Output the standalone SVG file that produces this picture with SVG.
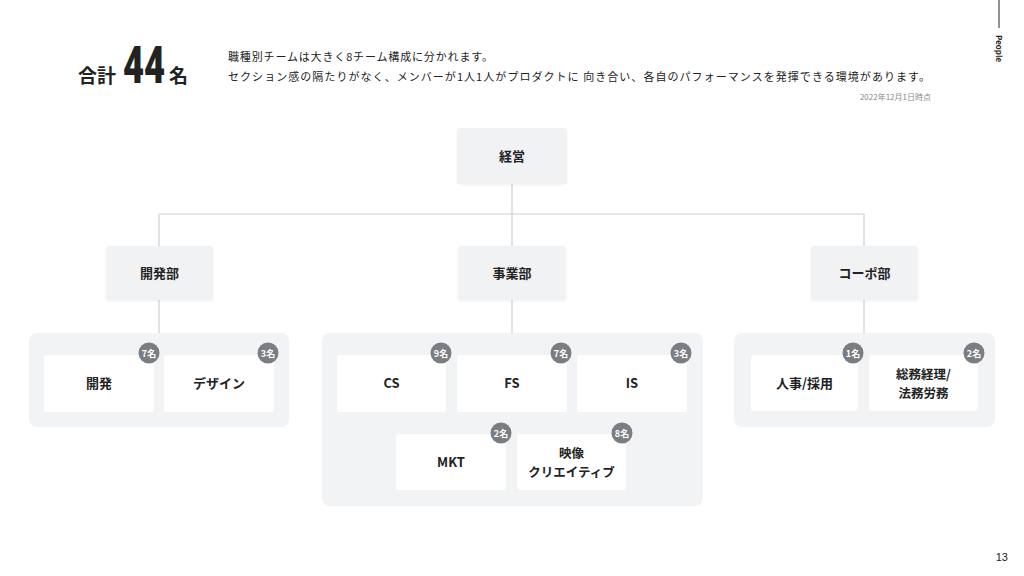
<svg xmlns="http://www.w3.org/2000/svg" width="1024" height="576" viewBox="0 0 1024 576">
<style>
.t{font-family:"Noto Sans CJK JP",sans-serif;fill:#222}
.n{font-family:"Noto Sans CJK JP",sans-serif;font-size:13px;font-weight:700;fill:#222;text-anchor:middle}
.n2{font-family:"Noto Sans CJK JP",sans-serif;font-size:12.5px;font-weight:700;fill:#222;text-anchor:middle}
.top{fill:#f1f2f4}
.grp{fill:#f2f3f5}
.box{fill:#ffffff}
.bd{fill:#7a7e83}
.bt{font-family:"Noto Sans CJK JP",sans-serif;font-size:9px;font-weight:700;fill:#fff;text-anchor:middle}
.ln{stroke:#cfcfcf;stroke-width:1.2;fill:none}
</style>
<defs>
<filter id="sh" x="-10%" y="-10%" width="120%" height="130%"><feDropShadow dx="0" dy="1" stdDeviation="1" flood-color="#000" flood-opacity="0.06"/></filter>
</defs>
<rect width="1024" height="576" fill="#fff"/>
<line x1="999" y1="0" x2="999" y2="28" stroke="#222" stroke-width="1"/>
<text class="t" x="0" y="0" font-size="8" font-weight="700" transform="translate(996,35) rotate(90)">People</text>
<text class="t" x="78" y="83" font-size="19" font-weight="700">合計</text>
<text class="t" x="0" y="0" font-size="52" font-weight="900" transform="translate(123,83) scale(0.7,1)" style="font-family:Roboto,sans-serif">44</text>
<text class="t" x="169" y="83" font-size="19" font-weight="700">名</text>
<text class="t" x="228" y="61" font-size="11" textLength="265" lengthAdjust="spacing">職種別チームは大きく8チーム構成に分かれます。</text>
<text class="t" x="228" y="81" font-size="11" textLength="702" lengthAdjust="spacing">セクション感の隔たりがなく、メンバーが1人1人がプロダクトに 向き合い、各自のパフォーマンスを発揮できる環境があります。</text>
<text class="t" x="931" y="100" font-size="8" style="fill:#888" text-anchor="end">2022年12月1日時点</text>
<text class="t" x="1008" y="561" font-size="11" text-anchor="end" style="font-family:'Liberation Sans',sans-serif">13</text>

<g id="connectors">
<line class="ln" x1="512" y1="184" x2="512" y2="246"/>
<line class="ln" x1="159" y1="214" x2="864" y2="214"/>
<line class="ln" x1="159" y1="214" x2="159" y2="246"/>
<line class="ln" x1="864" y1="214" x2="864" y2="246"/>
<line class="ln" x1="159" y1="300" x2="159" y2="333"/>
<line class="ln" x1="512" y1="300" x2="512" y2="333"/>
<line class="ln" x1="864" y1="300" x2="864" y2="333"/>
</g>

<g id="keiei"><rect class="top" x="457" y="128" width="110" height="56" rx="3" filter="url(#sh)"/><text class="n" x="512" y="161">経営</text></g>
<g id="kaihatsubu"><rect class="top" x="106" y="246" width="107" height="54" rx="3" filter="url(#sh)"/><text class="n" x="159.5" y="278">開発部</text></g>
<g id="jigyobu"><rect class="top" x="458" y="246" width="108" height="54" rx="3" filter="url(#sh)"/><text class="n" x="512" y="278">事業部</text></g>
<g id="koubu"><rect class="top" x="811" y="246" width="107" height="54" rx="3" filter="url(#sh)"/><text class="n" x="864.5" y="278">コーポ部</text></g>

<g id="group-kaihatsu"><rect class="grp" x="29" y="333" width="260" height="94" rx="8"/></g>
<g id="group-jigyo"><rect class="grp" x="322" y="333" width="381" height="173" rx="8"/></g>
<g id="group-corp"><rect class="grp" x="734" y="333" width="261" height="94" rx="8"/></g>

<g id="kaihatsu"><rect class="box" x="44" y="355" width="110" height="57" rx="3"/><text class="n" x="99" y="388">開発</text><circle class="bd" cx="149" cy="353" r="10.5"/><text class="bt" x="149" y="356.5">7名</text></g>
<g id="design"><rect class="box" x="164" y="355" width="110" height="57" rx="3"/><text class="n" x="219" y="388">デザイン</text><circle class="bd" cx="268" cy="353" r="10.5"/><text class="bt" x="268" y="356.5">3名</text></g>

<g id="cs"><rect class="box" x="337" y="355" width="109" height="57" rx="3"/><text class="n" x="391.5" y="388">CS</text><circle class="bd" cx="441" cy="353" r="10.5"/><text class="bt" x="441" y="356.5">9名</text></g>
<g id="fs"><rect class="box" x="457" y="355" width="110" height="57" rx="3"/><text class="n" x="512" y="388">FS</text><circle class="bd" cx="561" cy="353" r="10.5"/><text class="bt" x="561" y="356.5">7名</text></g>
<g id="is"><rect class="box" x="577" y="355" width="110" height="57" rx="3"/><text class="n" x="632" y="388">IS</text><circle class="bd" cx="681" cy="353" r="10.5"/><text class="bt" x="681" y="356.5">3名</text></g>
<g id="mkt"><rect class="box" x="396" y="434" width="110" height="56" rx="3"/><text class="n" x="451" y="467">MKT</text><circle class="bd" cx="501" cy="433" r="10.5"/><text class="bt" x="501" y="436.5">2名</text></g>
<g id="eizo"><rect class="box" x="517" y="434" width="109" height="56" rx="3"/><text class="n2" x="571.5" y="458">映像</text><text class="n2" x="571.5" y="476.5">クリエイティブ</text><circle class="bd" cx="622" cy="433" r="10.5"/><text class="bt" x="622" y="436.5">8名</text></g>

<g id="jinji"><rect class="box" x="751" y="355" width="107" height="56" rx="3"/><text class="n" x="804.5" y="388">人事/採用</text><circle class="bd" cx="853" cy="353" r="10.5"/><text class="bt" x="853" y="356.5">1名</text></g>
<g id="somu"><rect class="box" x="869" y="355" width="109" height="56" rx="3"/><text class="n2" x="923.5" y="379">総務経理/</text><text class="n2" x="923.5" y="397.5">法務労務</text><circle class="bd" cx="974" cy="353" r="10.5"/><text class="bt" x="974" y="356.5">2名</text></g>
</svg>
